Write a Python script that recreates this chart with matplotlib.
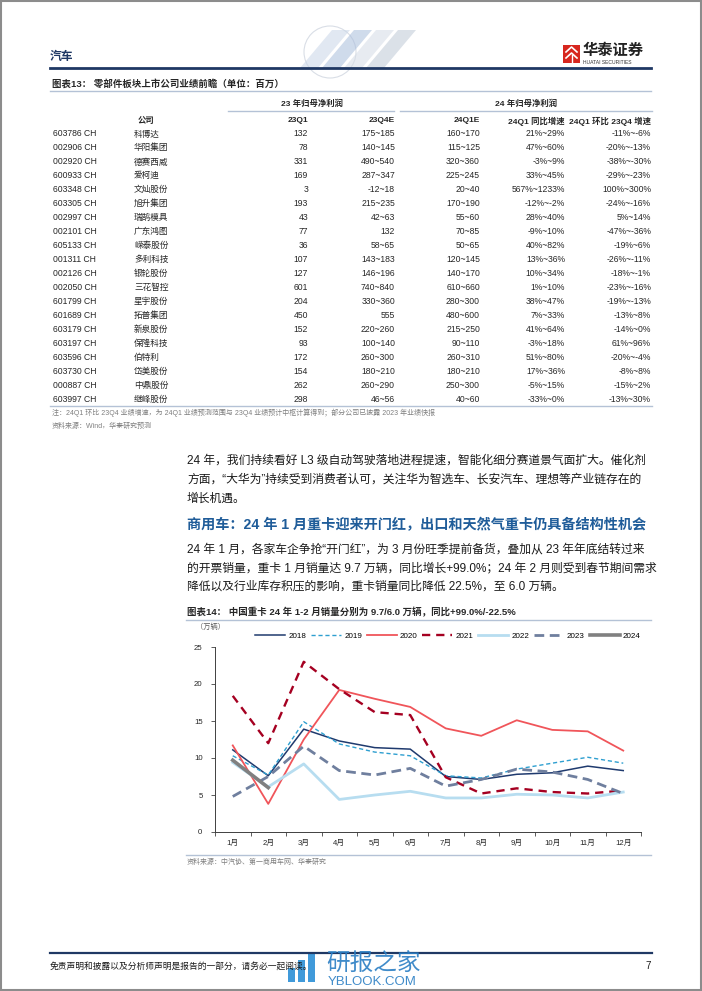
import numpy as np
import matplotlib.pyplot as plt
from matplotlib.patches import Rectangle, Circle, Polygon

plt.rcParams['font.family'] = ['Liberation Sans', 'Noto Sans CJK SC', 'DejaVu Sans']

# ---------------------------------------------------------------
# Donnees du tableau (figure 13)
# ---------------------------------------------------------------
codes = ['603786 CH', '002906 CH', '002920 CH', '600933 CH', '603348 CH',
         '603305 CH', '002997 CH', '002101 CH', '605133 CH', '001311 CH',
         '002126 CH', '002050 CH', '601799 CH', '601689 CH', '603179 CH',
         '603197 CH', '603596 CH', '603730 CH', '000887 CH', '603997 CH']
names = ['科博达', '华阳集团', '德赛西威', '爱柯迪', '文灿股份', '旭升集团',
         '瑞鹄模具', '广东鸿图', '嵘泰股份', '多利科技', '银轮股份', '三花智控',
         '星宇股份', '拓普集团', '新泉股份', '保隆科技', '伯特利', '岱美股份',
         '中鼎股份', '继峰股份']
q1_23 = ['132', '78', '331', '169', '3', '193', '43', '77', '36', '107',
         '127', '601', '204', '450', '152', '93', '172', '154', '262', '298']
q4e_23 = ['175~185', '140~145', '490~540', '287~347', '-12~18', '215~235',
          '42~63', '132', '58~65', '143~183', '146~196', '740~840', '330~360',
          '555', '220~260', '100~140', '260~300', '180~210', '260~290', '46~56']
q1e_24 = ['160~170', '115~125', '320~360', '225~245', '20~40', '170~190',
          '55~60', '70~85', '50~65', '120~145', '140~170', '610~660', '280~300',
          '480~600', '215~250', '90~110', '260~310', '180~210', '250~300', '40~60']
yoy = ['21%~29%', '47%~60%', '-3%~9%', '33%~45%', '567%~1233%', '-12%~-2%',
       '28%~40%', '-9%~10%', '40%~82%', '13%~36%', '10%~34%', '1%~10%',
       '38%~47%', '7%~33%', '41%~64%', '-3%~18%', '51%~80%', '17%~36%',
       '-5%~15%', '-33%~0%']
qoq = ['-11%~-6%', '-20%~-13%', '-38%~-30%', '-29%~-23%', '100%~300%',
       '-24%~-16%', '5%~14%', '-47%~-36%', '-19%~6%', '-26%~-11%', '-18%~-1%',
       '-23%~-16%', '-19%~-13%', '-13%~8%', '-14%~0%', '61%~96%', '-20%~-4%',
       '-8%~8%', '-15%~2%', '-13%~30%']

# ---------------------------------------------------------------
# Donnees du graphique (figure 14) : ventes mensuelles poids lourds (万辆)
# ---------------------------------------------------------------
months = ['1月', '2月', '3月', '4月', '5月', '6月', '7月', '8月', '9月', '10月', '11月', '12月']
s2018 = [11.1, 7.6, 13.9, 12.3, 11.4, 11.2, 7.5, 7.1, 7.8, 8.0, 8.9, 8.3]
s2019 = [10.3, 7.7, 14.9, 11.9, 10.8, 10.3, 7.6, 7.3, 8.5, 9.3, 10.1, 9.3]
s2020 = [11.7, 3.8, 12.5, 19.2, 18.0, 16.9, 14.0, 13.0, 15.1, 13.8, 13.6, 11.0]
s2021 = [18.4, 12.0, 23.0, 19.3, 16.2, 15.8, 7.4, 5.2, 5.9, 5.4, 5.2, 5.6]
s2022 = [9.4, 6.1, 9.2, 4.4, 5.0, 5.5, 4.6, 4.6, 5.1, 5.0, 4.6, 5.4]
s2023 = [4.8, 7.5, 11.6, 8.3, 7.7, 8.6, 6.2, 7.1, 8.5, 8.1, 7.1, 5.2]
s2024 = [9.7, 6.0]

W, H = 702, 991
fig = plt.figure(figsize=(W / 100, H / 100), dpi=100)
page = fig.add_axes([0, 0, 1, 1])
page.set_xlim(0, W)
page.set_ylim(H, 0)
page.axis('off')

navy = '#1F3864'
txt = '#262626'
grey = '#7F7F7F'

# cadre de la page
page.add_patch(Rectangle((1, 1), W - 2, H - 2, fill=False, ec='#8C8C8C', lw=1.5))

# ---------------------------------------------------------------
# En-tete
# ---------------------------------------------------------------
# decor (globe + chevrons) tres leger
page.add_patch(Circle((330, 52), 26, fill=False, ec='#D9DEE6', lw=0.8))
for dx, col in [(0, '#C9D6E8'), (22, '#A9BEDC'), (44, '#D5DCE6'), (66, '#BFC9D6')]:
    page.add_patch(Polygon([(300 + dx, 68), (318 + dx, 68), (350 + dx, 30), (332 + dx, 30)],
                           closed=True, fc=col, ec='none', alpha=0.55))
page.text(50, 57, '汽车', fontsize=8.5, color=navy, va='center', ha='left', fontweight='bold')

# logo
page.add_patch(Rectangle((563, 45), 17, 18, fc='#D7261E', ec='none'))
page.plot([566, 571.5, 577], [52, 47, 52], color='white', lw=1.2)
page.plot([566, 571.5, 577], [58, 53, 58], color='white', lw=1.2)
page.plot([571.5, 571.5], [55, 62], color='white', lw=1.0)
page.text(583, 51, '华泰证券', fontsize=11, fontweight='bold', color='#222222', va='center')
page.text(583, 62, 'HUATAI SECURITIES', fontsize=3.6, color='#333333', va='center')

page.plot([50, 651], [68, 68], color=navy, lw=2.0)

# ---------------------------------------------------------------
# Tableau
# ---------------------------------------------------------------
page.text(52, 84, '图表13： 零部件板块上市公司业绩前瞻（单位：百万）', fontsize=6.8,
          fontweight='bold', color=txt, va='center')
page.plot([50, 651], [91, 91], color='#B4C2D6', lw=1.0)

fs = 6.2
hfs = 6.0
page.text(312, 104, '23 年归母净利润', fontsize=hfs, fontweight='bold', color=txt, ha='center', va='center')
page.text(526, 104, '24 年归母净利润', fontsize=hfs, fontweight='bold', color=txt, ha='center', va='center')
page.plot([228, 394], [111, 111], color='#B4C2D6', lw=1.0)
page.plot([400, 652], [111, 111], color='#B4C2D6', lw=1.0)

header_y = 121
page.text(138, header_y, '公司', fontsize=hfs, fontweight='bold', color=txt, va='center')
col_x = [308, 395, 480, 565, 651]
heads = ['23Q1', '23Q4E', '24Q1E', '24Q1 同比增速', '24Q1 环比 23Q4 增速']
for x, h in zip(col_x, heads):
    page.text(x, header_y, h, fontsize=hfs, fontweight='bold', color=txt, ha='right', va='center')

row0, dy = 134, 13.95
cols = [q1_23, q4e_23, q1e_24, yoy, qoq]
for i in range(len(codes)):
    y = row0 + i * dy
    page.text(53, y, codes[i], fontsize=fs, color=txt, va='center')
    page.text(134, y, names[i], fontsize=fs, color=txt, va='center')
    for x, c in zip(col_x, cols):
        page.text(x, y, c[i], fontsize=fs, color=txt, ha='right', va='center')

page.plot([50, 652], [406, 406], color='#B4C2D6', lw=1.0)
page.text(52, 413, '注：24Q1 环比 23Q4 业绩增速，为 24Q1 业绩预测范围与 23Q4 业绩预计中枢计算得到；部分公司已披露 2023 年业绩快报',
          fontsize=5.0, color=grey, va='center')
page.text(52, 426, '资料来源：Wind，华泰研究预测', fontsize=5.0, color=grey, va='center')

# ---------------------------------------------------------------
# Paragraphes
# ---------------------------------------------------------------
pfs = 8.5
para1 = ['24 年，我们持续看好 L3 级自动驾驶落地进程提速，智能化细分赛道景气面扩大。催化剂',
         '方面，“大华为”持续受到消费者认可，关注华为智选车、长安汽车、理想等产业链存在的',
         '增长机遇。']
for k, line in enumerate(para1):
    page.text(187, 461 + k * 19, line, fontsize=pfs, color='#1A1A1A', va='center')

page.text(187, 525, '商用车：24 年 1 月重卡迎来开门红，出口和天然气重卡仍具备结构性机会',
          fontsize=10.2, fontweight='bold', color='#1F5C99', va='center')

para2 = ['24 年 1 月，各家车企争抢“开门红”，为 3 月份旺季提前备货，叠加从 23 年年底结转过来',
         '的开票销量，重卡 1 月销量达 9.7 万辆，同比增长+99.0%；24 年 2 月则受到春节期间需求',
         '降低以及行业库存积压的影响，重卡销量同比降低 22.5%，至 6.0 万辆。']
for k, line in enumerate(para2):
    page.text(187, 549 + k * 19, line, fontsize=pfs, color='#1A1A1A', va='center')

# ---------------------------------------------------------------
# Graphique
# ---------------------------------------------------------------
page.text(187, 612, '图表14： 中国重卡 24 年 1-2 月销量分别为 9.7/6.0 万辆，同比+99.0%/-22.5%',
          fontsize=6.8, fontweight='bold', color=txt, va='center')
page.plot([186, 651], [620, 620], color='#B4C2D6', lw=1.0)
page.text(196, 627, '（万辆）', fontsize=5.2, color='#595959', va='center')

x0, x1, y0, y1 = 215, 641, 832, 647
ax = fig.add_axes([x0 / W, 1 - y0 / H, (x1 - x0) / W, (y0 - y1) / H])
ax.patch.set_alpha(0)
xs = np.arange(len(months))

styles = [
    ('2018', s2018, dict(color='#1F3A6E', lw=1.1)),
    ('2019', s2019, dict(color='#2E9FD0', lw=1.0, dashes=(3, 2))),
    ('2020', s2020, dict(color='#F0555A', lw=1.3)),
    ('2021', s2021, dict(color='#A50021', lw=1.7, dashes=(3.5, 2.5))),
    ('2022', s2022, dict(color='#B7DDF0', lw=2.0)),
    ('2023', s2023, dict(color='#6F7F9E', lw=2.0, dashes=(3.5, 2))),
    ('2024', s2024, dict(color='#808080', lw=2.6)),
]
for lab, vals, st in styles:
    ax.plot(xs[:len(vals)], vals, label=lab, **st)

ax.set_xlim(-0.5, 11.5)
ax.set_ylim(0, 25)
ax.set_yticks([0, 5, 10, 15, 20, 25])
ax.set_xticks(np.arange(-0.5, 12, 1))
ax.set_xticklabels([])
ax.set_xticks(xs, minor=True)
ax.set_xticklabels(months, minor=True)
ax.tick_params(axis='x', which='major', length=3, width=0.6, color='#404040', direction='out')
ax.tick_params(axis='x', which='minor', length=0, labelsize=5.6, labelcolor='#262626', pad=6)
ax.tick_params(axis='y', length=3, width=0.6, color='#404040', labelsize=5.6,
               labelcolor='#262626', pad=6)
for sp in ['top', 'right']:
    ax.spines[sp].set_visible(False)
for sp in ['left', 'bottom']:
    ax.spines[sp].set_color('#404040')
    ax.spines[sp].set_linewidth(0.7)

ax.legend(loc='lower center', bbox_to_anchor=(0.5 + 20 / 426, 1.02), ncol=7, frameon=False,
          fontsize=5.8, handlelength=3.7, handletextpad=0.4, columnspacing=0.6,
          borderaxespad=0)

page.plot([186, 651], [855, 855], color='#B4C2D6', lw=1.0)
page.text(187, 862, '资料来源：中汽协、第一商用车网、华泰研究', fontsize=5.0, color=grey, va='center')

# ---------------------------------------------------------------
# Pied de page
# ---------------------------------------------------------------
page.plot([50, 652], [953, 953], color=navy, lw=1.6)
page.text(50, 966, '免责声明和披露以及分析师声明是报告的一部分，请务必一起阅读。',
          fontsize=6.3, color='#1A1A1A', va='center', style='italic')
page.text(651, 966, '7', fontsize=7, color='#1A1A1A', va='center', ha='right')

# filigrane
for k, hgt in enumerate([14, 22, 30]):
    page.add_patch(Rectangle((288 + k * 10, 982 - hgt), 7, hgt, fc='#2B8FD6', ec='none', alpha=0.9))
page.text(326, 964, '研报之家', fontsize=17, color='#2B7FC4', va='center', alpha=0.9)
page.text(328, 982, 'YBLOOK.COM', fontsize=9.5, color='#2B7FC4', va='center', alpha=0.9)

fig.savefig('out.png', dpi=100)
